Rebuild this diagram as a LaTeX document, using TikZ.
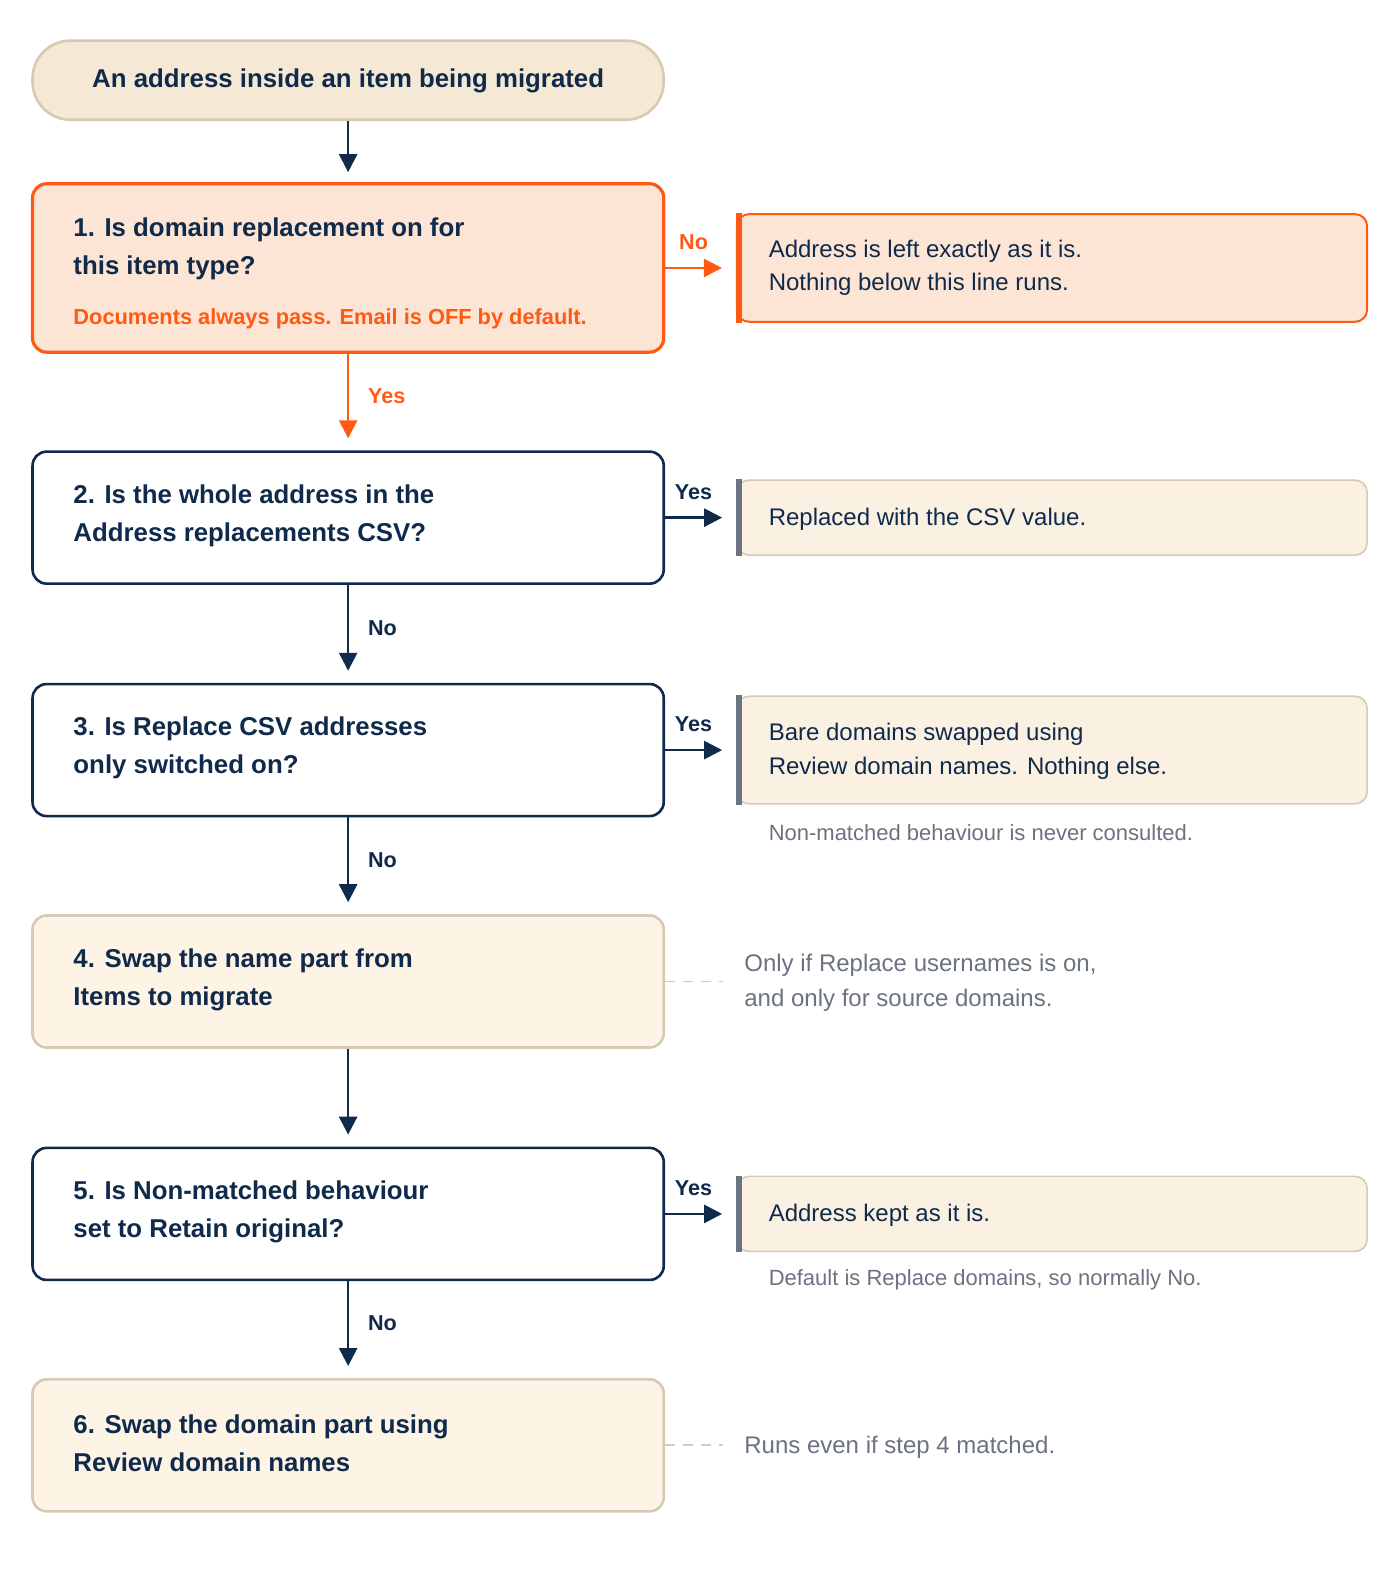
\documentclass[tikz,border=0pt]{standalone}
\usepackage{fontspec}
\setmainfont{Liberation Sans}
\usetikzlibrary{arrows.meta}
\definecolor{navy}{HTML}{0F2A4A}
\definecolor{orng}{HTML}{FF5A14}
\definecolor{peach}{HTML}{FDE5D6}
\definecolor{sand}{HTML}{F5E9D6}
\definecolor{sandb}{HTML}{D6C9B6}
\definecolor{cream}{HTML}{FEF4E6}
\definecolor{cream2}{HTML}{FAF1E3}
\definecolor{gry}{HTML}{6B7280}
\begin{document}
\begin{tikzpicture}[x=0.5075pt,y=-0.5075pt,
 box/.style={draw=navy,line width=1.3pt,rounded corners=7pt,minimum width=315.6pt,minimum height=66pt,fill=white},
 tbox/.style={box,draw=sandb,fill=cream},
 obox/.style={box,draw=orng,fill=peach,line width=1.6pt,minimum height=84.2pt},
 rbox/.style={draw=sandb,line width=0.8pt,rounded corners=6pt,minimum width=315.1pt,fill=cream2},
 mt/.style={anchor=west,inner sep=0pt,font=\bfseries\fontsize{12.9}{19}\selectfont,text=navy,align=left},
 rt/.style={anchor=west,inner sep=0pt,font=\fontsize{12}{16.8}\selectfont,text=navy,align=left},
 nt/.style={anchor=west,inner sep=0pt,font=\fontsize{11}{17.3}\selectfont,text=gry,align=left},
 lb/.style={font=\bfseries\fontsize{10.8}{12}\selectfont,text=navy},
 ar/.style={draw=navy,line width=1.3pt,-{Triangle[length=9pt,width=9pt]}},
 oar/.style={ar,draw=orng,-{Triangle[length=9pt,width=9pt,fill=orng]}},
 dsh/.style={draw=sandb,line width=0.9pt,dash pattern=on 5pt off 4pt}]
\useasboundingbox (0,0) rectangle (1379.3,1568.5);
% top
\node[draw=sandb,fill=sand,line width=1.3pt,rounded corners=19pt,minimum width=315.6pt,minimum height=39.6pt] (top) at (343,79) {};
\node[font=\bfseries\fontsize{12.9}{14}\selectfont,text=navy] (topt) at (343,80) {An address inside an item being migrated};
% box1
\node[obox] (b1) at (343,264) {};
\node[mt] (b1t) at (72,245) {1. Is domain replacement on for\\this item type?};
\node[anchor=west,inner sep=0pt,font=\bfseries\fontsize{10.9}{12}\selectfont,text=orng] (b1n) at (72,314) {Documents always pass. Email is OFF by default.};
\node[rbox,draw=orng,fill=peach,line width=1pt,minimum height=53.8pt] (r1) at (1036.5,264) {};
\fill[orng] (r1.north west) rectangle ([xshift=3pt]r1.south west);
\node[rt] (r1t) at (757,264) {Address is left exactly as it is.\\Nothing below this line runs.};
% box2
\node[box] (b2) at (343,510) {};
\node[mt] (b2t) at (72,508) {2. Is the whole address in the\\Address replacements CSV?};
\node[rbox,minimum height=37.5pt] (r2) at (1036.5,510) {};
\fill[gry] (r2.north west) rectangle ([xshift=3pt]r2.south west);
\node[rt] (r2t) at (757,512) {Replaced with the CSV value.};
% box3
\node[box] (b3) at (343,739) {};
\node[mt] (b3t) at (72,737) {3. Is Replace CSV addresses\\only switched on?};
\node[rbox,minimum height=53.8pt] (r3) at (1036.5,739) {};
\fill[gry] (r3.north west) rectangle ([xshift=3pt]r3.south west);
\node[rt] (r3t) at (757,740) {Bare domains swapped using\\Review domain names. Nothing else.};
\node[nt] (n3) at (757,820) {Non-matched behaviour is never consulted.};
% box4
\node[tbox] (b4) at (343,967) {};
\node[mt] (b4t) at (72,965) {4. Swap the name part from\\Items to migrate};
\coordinate (d4) at (712,967);
\node[nt,font=\fontsize{12}{17.3}\selectfont] (n4) at (733,968) {Only if Replace usernames is on,\\and only for source domains.};
% box5
\node[box] (b5) at (343,1196) {};
\node[mt] (b5t) at (72,1194) {5. Is Non-matched behaviour\\set to Retain original?};
\node[rbox,minimum height=37.5pt] (r5) at (1036.5,1196) {};
\fill[gry] (r5.north west) rectangle ([xshift=3pt]r5.south west);
\node[rt] (r5t) at (757,1197) {Address kept as it is.};
\node[nt] (n5) at (757,1261) {Default is Replace domains, so normally No.};
% box6
\node[tbox] (b6) at (343,1424) {};
\node[mt] (b6t) at (72,1422) {6. Swap the domain part using\\Review domain names};
\coordinate (d6) at (712,1424);
\node[nt,font=\fontsize{12}{17.3}\selectfont] (n6) at (733,1426) {Runs even if step 4 matched.};
% connectors
\draw[ar] (top) -- ([yshift=5pt]b1.north);
\draw[oar] (b1) -- node[right=6pt,font=\bfseries\fontsize{10.8}{12}\selectfont,text=orng]{Yes} ([yshift=6pt]b2.north);
\draw[oar] (b1.east) -- node[above=5pt,font=\bfseries\fontsize{10.8}{12}\selectfont,text=orng]{No} ([xshift=-7pt]r1.west);
\draw[ar] (b2.east) -- node[above=5pt,lb]{Yes} ([xshift=-7pt]r2.west);
\draw[ar] (b2) -- node[right=6pt,lb]{No} ([yshift=6pt]b3.north);
\draw[ar] (b3.east) -- node[above=5pt,lb]{Yes} ([xshift=-7pt]r3.west);
\draw[ar] (b3) -- node[right=6pt,lb]{No} ([yshift=6pt]b4.north);
\draw[ar] (b4) -- ([yshift=6pt]b5.north);
\draw[ar] (b5.east) -- node[above=5pt,lb]{Yes} ([xshift=-7pt]r5.west);
\draw[ar] (b5) -- node[right=6pt,lb]{No} ([yshift=6pt]b6.north);
\draw[dsh] (b4.east) -- (d4);
\draw[dsh] (b6.east) -- (d6);
\end{tikzpicture}
\end{document}
